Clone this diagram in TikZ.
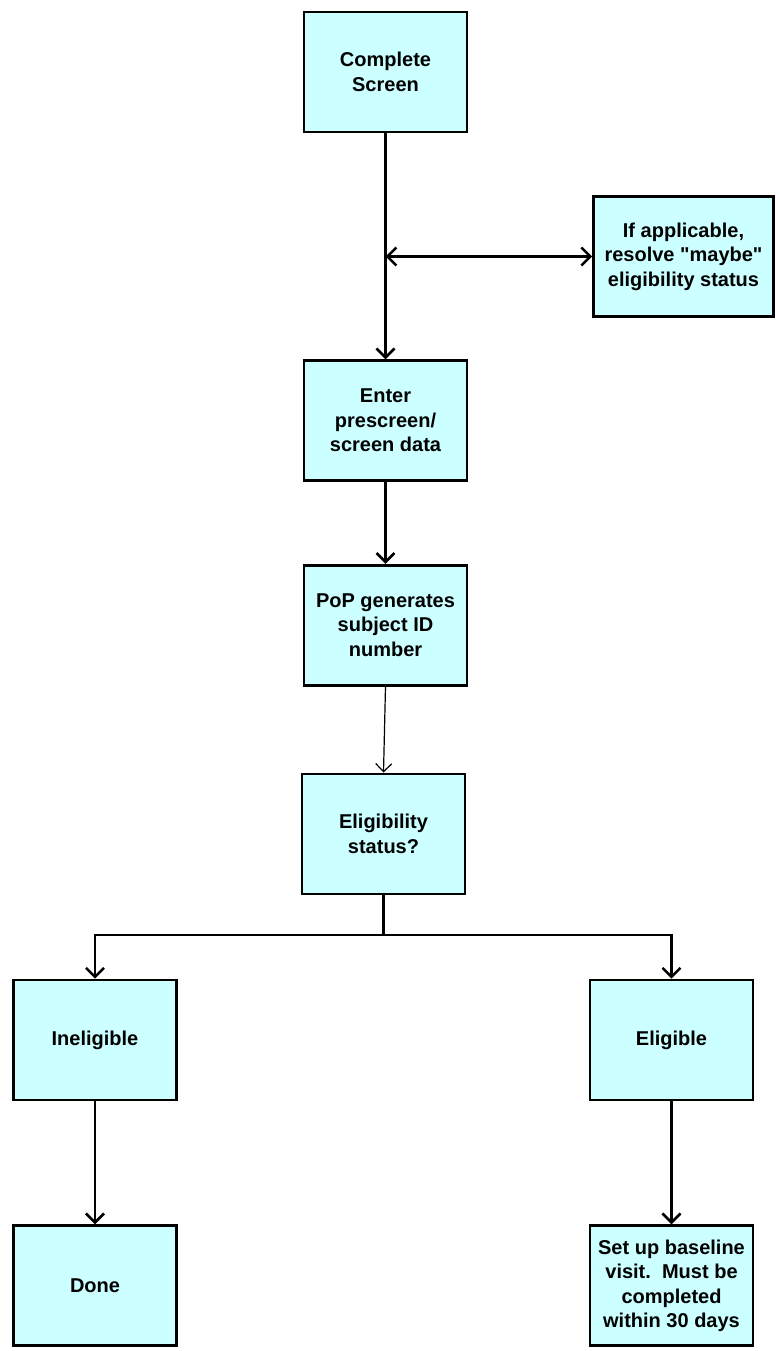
\documentclass[tikz,border=0pt]{standalone}
\usepackage{fontspec}
\setmainfont{Liberation Sans}
\usepackage{xcolor}
\usetikzlibrary{positioning,arrows.meta}
\definecolor{BoxCyan}{HTML}{CCFFFF}

\begin{document}
\begin{tikzpicture}[x=1pt, y=-1pt,
                    every node/.style={draw, line width=2.6pt, fill=BoxCyan, align=center,
                                       minimum width=163pt, minimum height=120pt,
                                       font=\fontsize{20}{24.5}\selectfont\bfseries},
                    flow/.style={line width=2.6pt, -{Straight Barb[length=9pt,width=18pt]}},
                    thinflow/.style={line width=1.2pt, -{Straight Barb[length=8pt,width=16pt]}}]
\useasboundingbox (0,0) rectangle (779,1351);
\node (screen) at (385.5,72) {Complete\\ Screen};
\node[below=226pt of screen] (enter) {Enter\\ prescreen/\\ screen data};
\node[below=82pt of enter] (pop) {PoP generates\\ subject ID\\ number};
\node[below=86pt of pop, xshift=-2pt] (status) {Eligibility\\ status?};
\node[minimum width=180pt] (resolve) at (683.5,256.5) {If applicable,\\ resolve \textquotedbl maybe\textquotedbl\\ eligibility status};
\node (ineligible) at (95,1040) {Ineligible};
\node (eligible) at (671.5,1040) {Eligible};
\node[below=123pt of ineligible] (done) {Done};
\node[below=123pt of eligible] (baseline) {Set up baseline\\ visit.\ \ Must be\\ completed\\ within 30 days};
\coordinate (junction) at (screen.south |- resolve.west);
\draw[flow] (screen) -- (enter);
\draw[line width=2.6pt, {Straight Barb[length=9pt,width=18pt]}-{Straight Barb[length=9pt,width=18pt]}] (junction) -- (resolve);
\draw[flow] (enter) -- (pop);
\draw[thinflow] (pop.south) -- (status.north);
\draw[flow] (status.south) -- ++(0,40) -| (ineligible.north);
\draw[flow] (status.south) -- ++(0,40) -| (eligible.north);
\draw[flow] (ineligible) -- (done);
\draw[flow] (eligible) -- (baseline);
\end{tikzpicture}
\end{document}
